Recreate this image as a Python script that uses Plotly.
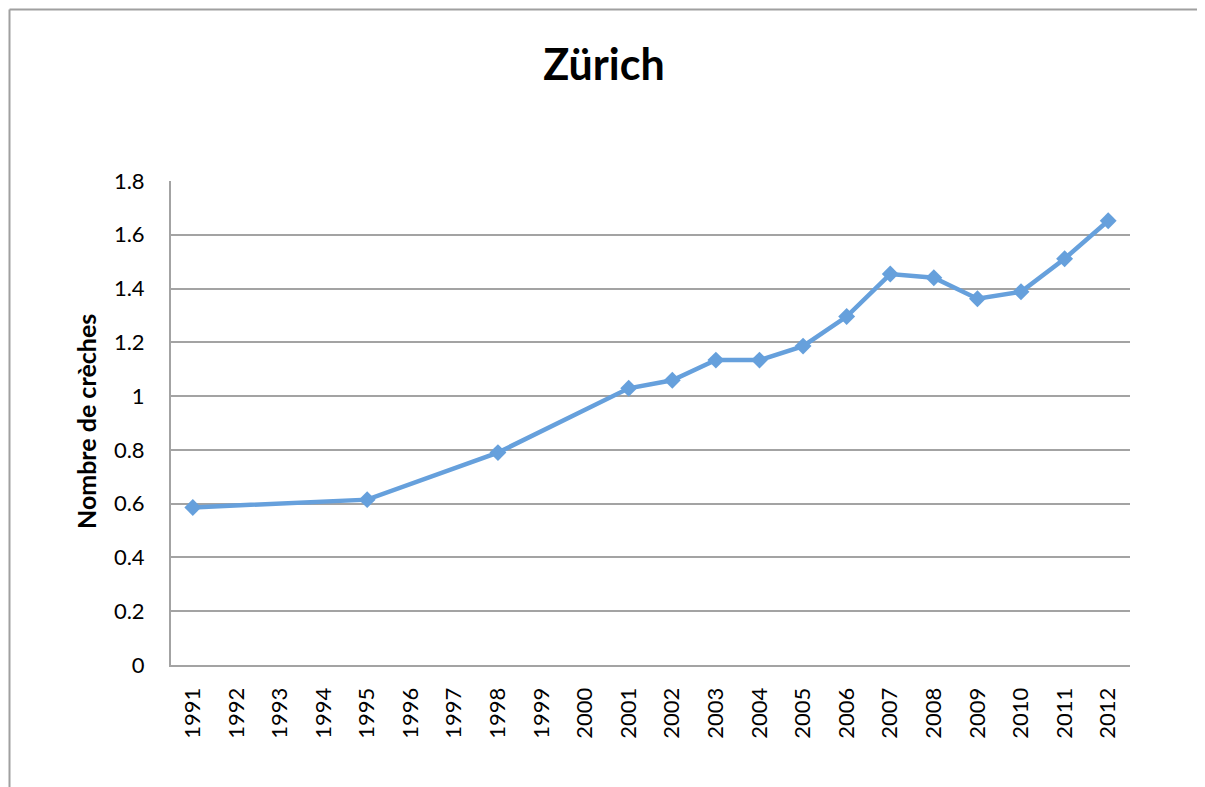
import plotly.graph_objects as go

years = [str(y) for y in range(1991, 2013)]
data_years = ["1991", "1995", "1998", "2001", "2002", "2003", "2004", "2005",
              "2006", "2007", "2008", "2009", "2010", "2011", "2012"]
creches = [0.586, 0.615, 0.790, 1.029, 1.059, 1.134, 1.134, 1.186,
           1.296, 1.454, 1.440, 1.362, 1.388, 1.511, 1.652]
y_ticks = [0, 0.2, 0.4, 0.6, 0.8, 1, 1.2, 1.4, 1.6, 1.8]
y_ticklabels = ["0", "0.2", "0.4", "0.6", "0.8", "1", "1.2", "1.4", "1.6", "1.8"]

FONT = "Lato"
LINE_COLOR = "#66A0DC"
GRID = "#A3A3A3"

fig = go.Figure()
fig.add_trace(go.Scatter(
    x=data_years, y=creches, mode="lines+markers",
    line=dict(color=LINE_COLOR, width=4.5),
    marker=dict(symbol="diamond", size=13, color=LINE_COLOR),
    showlegend=False,
))

OFF = 8  # page body margin offset
W, H = 1205 - OFF, 787 - OFF
L, T = 171 - OFF, 181 - OFF
R = W - (1130 - OFF)
B = H - (665 - OFF)
pw, ph = W - L - R, H - T - B

def px_x(px):
    return (px - OFF - L) / pw

def px_y(py):
    return (H - B - (py - OFF)) / ph

fig.update_layout(
    width=W, height=H,
    margin=dict(l=L, r=R, t=T, b=B, autoexpand=False),
    paper_bgcolor="white", plot_bgcolor="white",
    font=dict(family=FONT, color="black", size=22),
    title=dict(text="<b>Zürich</b>", x=(604 - OFF) / W, xref="container", xanchor="center",
               y=1 - (65 - OFF) / H, yref="container", yanchor="middle",
               font=dict(family=FONT, size=43, color="black")),
    xaxis=dict(
        type="category", categoryorder="array", categoryarray=years,
        tickmode="array", tickvals=years, ticktext=years,
        range=[-0.5, len(years) - 0.5],
        tickangle=-90, showgrid=False, showline=True, linecolor=GRID, linewidth=2,
        ticks="", ticklabelstandoff=12, zeroline=False,
        tickfont=dict(family=FONT, size=22, color="black"),
    ),
    yaxis=dict(
        range=[0, 1.8], tickmode="array", tickvals=y_ticks, ticktext=y_ticklabels,
        showgrid=True, gridcolor=GRID, gridwidth=2,
        showline=True, linecolor=GRID, linewidth=2, zeroline=False,
        ticks="", ticklabelstandoff=20,
        tickfont=dict(family=FONT, size=22, color="black"),
    ),
    annotations=[dict(
        text="<b>Nombre de crèches</b>", textangle=-90,
        xref="paper", yref="paper", x=px_x(86), y=px_y(422),
        xanchor="center", yanchor="middle", showarrow=False,
        font=dict(family=FONT, size=25, color="black"),
    )],
    shapes=[
        dict(type="line", xref="paper", yref="paper",
             x0=px_x(9.5), x1=px_x(9.5), y0=px_y(9.5), y1=px_y(800),
             line=dict(color="#A0A0A0", width=2)),
        dict(type="line", xref="paper", yref="paper",
             x0=px_x(9.5), x1=px_x(1215), y0=px_y(9.5), y1=px_y(9.5),
             line=dict(color="#A0A0A0", width=2)),
    ],
)

fig.write_html("out.html")
